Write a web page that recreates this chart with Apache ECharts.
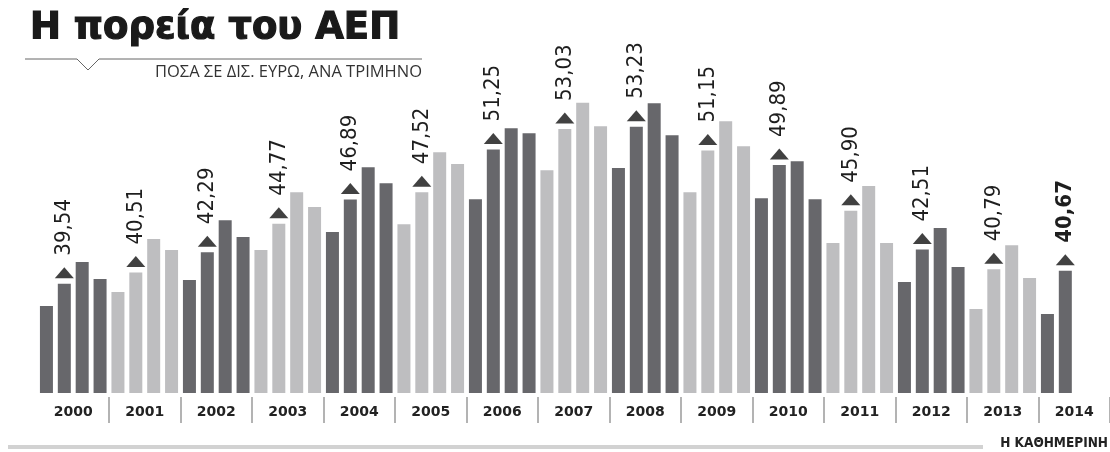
<!DOCTYPE html>
<html>
<head>
<meta charset="utf-8">
<script src="https://cdn.jsdelivr.net/npm/echarts@6/dist/echarts.min.js"></script>
<style>
  html, body { margin: 0; padding: 0; background: #ffffff; }
  #chart { width: 1110px; height: 452px; }
</style>
</head>
<body>
<div id="chart"></div>
<script>
// Years shown on the axis
const years = ['2000','2001','2002','2003','2004','2005','2006','2007','2008','2009','2010','2011','2012','2013','2014'];
const quarters = ['Α', 'Β', 'Γ', 'Δ'];

// Quarterly GDP, billions of euro (Q1..Q4 for each year, 2014 only Q1-Q2)
const gdp = [
  37.59, 39.54, 41.42, 39.94,
  38.81, 40.51, 43.43, 42.47,
  39.85, 42.29, 45.08, 43.60,
  42.47, 44.77, 47.52, 46.22,
  44.04, 46.89, 49.70, 48.31,
  44.73, 47.52, 51.01, 49.97,
  46.91, 51.25, 53.10, 52.67,
  49.44, 53.03, 55.33, 53.28,
  49.62, 53.23, 55.28, 52.49,
  47.52, 51.15, 53.71, 51.53,
  47.00, 49.89, 50.23, 46.91,
  43.08, 45.90, 48.05, 43.08,
  39.68, 42.51, 44.39, 40.99,
  37.32, 40.79, 42.90, 40.03,
  36.89, 40.67
];

const categories = gdp.map((v, i) => years[Math.floor(i / 4)] + ' ' + quarters[i % 4]);

const DARK = '#67676b';
const LIGHT = '#bebec0';
const lastIdx = gdp.length - 1;

const barData = gdp.map((v, i) => {
  const item = {
    value: v,
    itemStyle: { color: (Math.floor(i / 4) % 2 === 0) ? DARK : LIGHT }
  };
  if (i % 4 === 1) {
    item.label = {
      show: true,
      position: 'top',
      rotate: 90,
      align: 'left',
      verticalAlign: 'middle',
      distance: 28,
      formatter: (p) => p.value.toFixed(2).replace('.', ','),
      fontFamily: "'DejaVu Sans Condensed', 'Liberation Sans Narrow', 'DejaVu Sans', sans-serif",
      fontSize: 22,
      fontWeight: i === lastIdx ? 'bold' : 'normal',
      color: '#1e1e1e'
    };
  }
  return item;
});

const markerData = gdp.map((v, i) => [i, v]).filter(d => d[0] % 4 === 1);

const chart = echarts.init(document.getElementById('chart'), null, { renderer: 'canvas' });

chart.setOption({
  animation: false,
  backgroundColor: '#ffffff',
  title: {
    text: 'Η πορεία του ΑΕΠ',
    left: 25,
    top: 5,
    textStyle: {
      fontFamily: "'DejaVu Sans', sans-serif",
      fontWeight: 'bold',
      fontSize: 37,
      color: '#1a1a1a',
      textBorderColor: '#1a1a1a',
      textBorderWidth: 1.2
    }
  },
  grid: { left: 37.5, right: -7.5, top: 95, bottom: 59, containLabel: false },
  xAxis: {
    type: 'category',
    data: categories,
    max: 59,
    offset: 4,
    axisLine: { show: false },
    axisTick: {
      show: true,
      interval: (i) => i % 4 === 0 && i > 0,
      length: 26,
      lineStyle: { color: '#9b9b9b', width: 1.5 }
    },
    axisLabel: {
      interval: (i) => i % 4 === 1,
      formatter: (v) => v ? v.slice(0, 4) : '',
      padding: [0, 0, 0, 18],
      margin: 8,
      fontFamily: "'DejaVu Sans', sans-serif",
      fontWeight: 'bold',
      fontSize: 14,
      color: '#222'
    },
    splitLine: { show: false }
  },
  yAxis: {
    type: 'value',
    min: 30,
    max: 56,
    show: false,
    splitLine: { show: false }
  },
  series: [
    {
      type: 'bar',
      data: barData,
      barWidth: 13,
      silent: true
    },
    {
      type: 'scatter',
      data: markerData,
      symbol: 'triangle',
      symbolSize: [19, 11],
      symbolOffset: [0, -11],
      itemStyle: { color: '#111' },
      silent: true,
      z: 5
    }
  ],
  graphic: [
    {
      type: 'polyline',
      shape: { points: [[25, 59], [77, 59], [88, 70], [99, 59], [422, 59]] },
      style: { stroke: '#666', lineWidth: 1, fill: null }
    },
    {
      type: 'text',
      right: 1110 - 422,
      top: 64,
      style: {
        text: 'ΠΟΣΑ ΣΕ ΔΙΣ. ΕΥΡΩ, ΑΝΑ ΤΡΙΜΗΝΟ',
        font: "16.5px 'Open Sans', sans-serif",
        fill: '#333'
      }
    },
    {
      type: 'rect',
      shape: { x: 8, y: 445, width: 975, height: 4 },
      style: { fill: '#d2d2d2' }
    },
    {
      type: 'text',
      right: 2,
      top: 436,
      style: {
        text: 'Η ΚΑΘΗΜΕΡΙΝΗ',
        font: "bold 13.5px 'DejaVu Sans Condensed', 'DejaVu Sans', sans-serif",
        fill: '#222'
      }
    }
  ]
});
</script>
</body>
</html>
